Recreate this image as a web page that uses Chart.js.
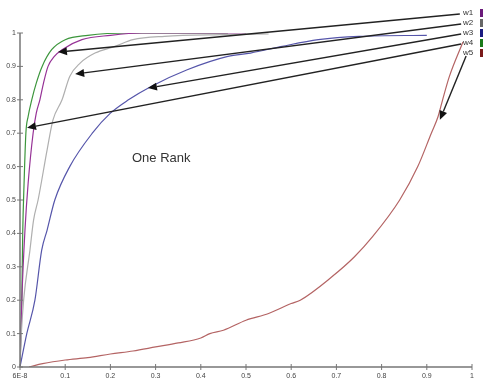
<!DOCTYPE html>
<html lang="en">
<head>
    <meta charset="UTF-8">
    <title>One Rank</title>
    <script src="https://cdn.jsdelivr.net/npm/chart.js"></script>
    <style>
        body { margin: 0; background: #fff; }
        canvas { display: block; }
    </style>
</head>
<body>
    <canvas id="rankChart" width="483" height="382"></canvas>

    <script>
        // series data (x, y pairs)
        const w1x = [0, 0.004, 0.011, 0.018, 0.029, 0.036, 0.044, 0.052, 0.062, 0.076, 0.093, 0.137, 0.2, 0.27, 0.5];
        const w1y = [0, 0.2, 0.41, 0.55, 0.7, 0.76, 0.8, 0.85, 0.9, 0.93, 0.95, 0.98, 0.993, 1.0, 1.0];

        const w2x = [0, 0.003, 0.008, 0.022, 0.03, 0.04, 0.06, 0.073, 0.093, 0.11, 0.133, 0.166, 0.21, 0.25, 0.32, 0.45, 0.55];
        const w2y = [0, 0.1, 0.2, 0.35, 0.44, 0.5, 0.65, 0.74, 0.8, 0.87, 0.91, 0.94, 0.96, 0.98, 0.99, 0.995, 0.997];

        const w3x = [0, 0.015, 0.033, 0.048, 0.06, 0.077, 0.11, 0.16, 0.2, 0.24, 0.29, 0.37, 0.46, 0.51, 0.58, 0.66, 0.75, 0.9];
        const w3y = [0, 0.1, 0.2, 0.35, 0.41, 0.5, 0.6, 0.7, 0.76, 0.8, 0.84, 0.89, 0.93, 0.94, 0.96, 0.98, 0.99, 0.993];

        const w4x = [0, 0.002, 0.004, 0.006, 0.009, 0.013, 0.018, 0.026, 0.036, 0.049, 0.07, 0.1, 0.15, 0.24, 0.46];
        const w4y = [0, 0.1, 0.2, 0.4, 0.55, 0.7, 0.75, 0.8, 0.85, 0.9, 0.95, 0.98, 0.993, 1.0, 1.0];

        const w5x = [0.02, 0.05, 0.1, 0.15, 0.2, 0.25, 0.3, 0.35, 0.4, 0.42, 0.45, 0.5, 0.55, 0.6, 0.62, 0.69, 0.74, 0.78, 0.84, 0.88, 0.91, 0.925, 0.935, 0.95, 0.98];
        const w5y = [0, 0.01, 0.021, 0.028, 0.039, 0.048, 0.06, 0.072, 0.087, 0.1, 0.11, 0.14, 0.16, 0.19, 0.2, 0.27, 0.33, 0.39, 0.5, 0.6, 0.7, 0.75, 0.8, 0.87, 0.973];

        const seriesNames = ["w1", "w2", "w3", "w4", "w5"];
        const lineColors = ["rgb(150,50,150)", "rgb(175,175,175)", "rgb(85,85,170)", "rgb(60,150,60)", "rgb(180,100,100)"];
        const swatchColors = ["#6a1a7a", "#666666", "#1a1a80", "#1a7a1a", "#7a1a1a"];

        const xTicks = [0, 0.1, 0.2, 0.3, 0.4, 0.5, 0.6, 0.7, 0.8, 0.9, 1];
        const xTickLabels = ["6E-8", "0.1", "0.2", "0.3", "0.4", "0.5", "0.6", "0.7", "0.8", "0.9", "1"];
        const yTicks = [0, 0.1, 0.2, 0.3, 0.4, 0.5, 0.6, 0.7, 0.8, 0.9, 1];

        // annotation arrows: from the label at the right to a point on each curve
        const arrowFromX = [0.973, 0.976, 0.976, 0.976, 0.987];
        const arrowFromY = [1.057, 1.027, 0.997, 0.967, 0.931];
        const arrowToX = [0.084, 0.122, 0.283, 0.0155, 0.929];
        const arrowToY = [0.943, 0.877, 0.835, 0.716, 0.74];

        const xs = [w1x, w2x, w3x, w4x, w5x];
        const ys = [w1y, w2y, w3y, w4y, w5y];
        const drawOrder = [2, 1, 0, 3, 4];

        const datasets = drawOrder.map(i => ({
            label: seriesNames[i],
            data: xs[i].map((x, k) => ({ x: x, y: ys[i][k] })),
            borderColor: lineColors[i],
            borderWidth: 1.2,
            pointRadius: 0,
            fill: false,
            cubicInterpolationMode: "monotone"
        }));

        const axisColor = "#777";

        const decorations = {
            id: "decorations",
            afterDraw(chart) {
                const ctx = chart.ctx;
                const xs_ = chart.scales.x;
                const ys_ = chart.scales.y;
                const area = chart.chartArea;
                ctx.save();

                // axis lines and crossing ticks
                ctx.strokeStyle = axisColor;
                ctx.lineWidth = 1.5;
                ctx.beginPath();
                ctx.moveTo(area.left, ys_.getPixelForValue(1));
                ctx.lineTo(area.left, area.bottom);
                ctx.lineTo(xs_.getPixelForValue(1), area.bottom);
                ctx.stroke();
                ctx.lineWidth = 1;
                ctx.beginPath();
                xTicks.forEach(v => {
                    const px = xs_.getPixelForValue(v);
                    ctx.moveTo(px, area.bottom - 3);
                    ctx.lineTo(px, area.bottom + 3);
                });
                yTicks.forEach(v => {
                    const py = ys_.getPixelForValue(v);
                    ctx.moveTo(area.left - 3, py);
                    ctx.lineTo(area.left + 3, py);
                });
                ctx.stroke();

                // arrows
                ctx.strokeStyle = "#222";
                ctx.fillStyle = "#111";
                ctx.lineWidth = 1.4;
                for (let i = 0; i < arrowFromX.length; i++) {
                    const x1 = xs_.getPixelForValue(arrowFromX[i]);
                    const y1 = ys_.getPixelForValue(arrowFromY[i]);
                    const x2 = xs_.getPixelForValue(arrowToX[i]);
                    const y2 = ys_.getPixelForValue(arrowToY[i]);
                    const a = Math.atan2(y2 - y1, x2 - x1);
                    const len = 9, half = 4;
                    const bx = x2 - len * Math.cos(a);
                    const by = y2 - len * Math.sin(a);
                    ctx.beginPath();
                    ctx.moveTo(x1, y1);
                    ctx.lineTo(bx, by);
                    ctx.stroke();
                    ctx.beginPath();
                    ctx.moveTo(x2, y2);
                    ctx.lineTo(bx + half * Math.sin(a), by - half * Math.cos(a));
                    ctx.lineTo(bx - half * Math.sin(a), by + half * Math.cos(a));
                    ctx.closePath();
                    ctx.fill();
                }

                // legend labels and swatches at the right edge
                ctx.font = "8px Arial, 'Liberation Sans', sans-serif";
                ctx.textAlign = "left";
                ctx.textBaseline = "middle";
                seriesNames.forEach((name, i) => {
                    const y = 13 + i * 10;
                    ctx.fillStyle = "#333";
                    ctx.fillText(name, 463, y);
                    ctx.fillStyle = swatchColors[i];
                    ctx.fillRect(480, y - 4, 3, 8);
                });

                // text in the plot
                ctx.font = "13px Arial, 'Liberation Sans', sans-serif";
                ctx.fillStyle = "#333";
                ctx.textAlign = "left";
                ctx.fillText("One Rank", 132, 158);

                ctx.restore();
            }
        };

        const ctx = document.getElementById("rankChart").getContext("2d");
        new Chart(ctx, {
            type: "line",
            data: { datasets: datasets },
            options: {
                responsive: false,
                animation: false,
                layout: { padding: { top: 33, right: 11, bottom: 0, left: 0 } },
                plugins: {
                    legend: { display: false },
                    tooltip: { enabled: false }
                },
                scales: {
                    x: {
                        type: "linear",
                        min: 0,
                        max: 1,
                        afterFit(scale) { scale.height = 15; },
                        afterBuildTicks(scale) { scale.ticks = xTicks.map(v => ({ value: v })); },
                        grid: { display: false, drawTicks: false },
                        border: { display: false },
                        ticks: {
                            padding: 5,
                            maxRotation: 0,
                            color: "#444",
                            font: { size: 7, family: "Arial, 'Liberation Sans', sans-serif" },
                            callback: (v) => xTickLabels[xTicks.indexOf(v)]
                        }
                    },
                    y: {
                        type: "linear",
                        min: 0,
                        max: 1,
                        afterFit(scale) { scale.width = 20; },
                        afterBuildTicks(scale) { scale.ticks = yTicks.map(v => ({ value: v })); },
                        grid: { display: false, drawTicks: false },
                        border: { display: false },
                        ticks: {
                            padding: 4,
                            color: "#444",
                            font: { size: 7, family: "Arial, 'Liberation Sans', sans-serif" },
                            callback: (v) => String(v)
                        }
                    }
                }
            },
            plugins: [decorations]
        });
    </script>
</body>
</html>
